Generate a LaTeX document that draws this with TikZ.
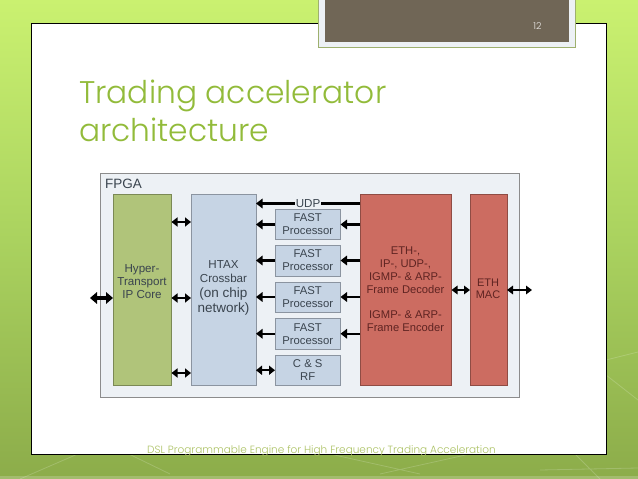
\documentclass[tikz,border=0pt]{standalone}
\usepackage{fontspec}
\setmainfont{Liberation Sans}
\newfontfamily\gothic{Poppins}[UprightFont=* Light]
\usetikzlibrary{arrows.meta,calc}
\definecolor{pgreen}{RGB}{176,196,122}
\definecolor{pblue}{RGB}{198,212,228}
\definecolor{pred}{RGB}{204,108,97}
\definecolor{fpgabg}{RGB}{237,241,245}
\definecolor{titlegr}{RGB}{146,187,58}
\definecolor{footgr}{RGB}{172,194,100}
\definecolor{brown}{RGB}{112,102,86}
\definecolor{bgtop}{RGB}{202,241,112}
\definecolor{bgmid}{RGB}{170,210,95}
\definecolor{bgbot}{RGB}{140,172,74}
\definecolor{txtdark}{RGB}{58,68,78}
\definecolor{txtred}{RGB}{95,36,34}
\tikzset{
  x=1pt,y=-1pt,
  blk/.style={draw=#1!70!black,line width=0.8pt,inner sep=0pt,outer sep=0pt,fill=#1},
  lab/.style={align=center,inner sep=0pt,text=txtdark,font=\fontsize{11.3}{13}\selectfont},
  redlab/.style={lab,text=txtred},
  one/.style={line width=2.3pt,-{Triangle[length=6.5pt,width=9.5pt]}},
  two/.style={line width=2.2pt,{Triangle[length=6pt,width=9pt]}-{Triangle[length=6pt,width=9pt]}},
  big/.style={line width=3.3pt,{Triangle[length=7pt,width=11.5pt]}-{Triangle[length=7pt,width=11.5pt]}},
  thin2/.style={line width=1.8pt,{Triangle[length=6pt,width=8.5pt]}-{Triangle[length=6pt,width=8.5pt]}},
  bgline/.style={white,opacity=0.18,line width=0.8pt}
}
\begin{document}
\begin{tikzpicture}
\useasboundingbox (0,0) rectangle (638,479);
% background
\shade[top color=bgtop,bottom color=bgbot,middle color=bgmid] (0,0) rectangle (638,479);
\fill[white,opacity=0.2] (0,476) rectangle (638,479);
\draw[bgline] (20,479) -- (110,440) (100,440) -- (170,474) (330,454) -- (420,474) (380,474) -- (470,454)
  (606,360) -- (638,352) (606,375) -- (638,400) (540,470) -- (638,468) (575,454) -- (600,479);
% panel
\draw[black,line width=0.9pt,fill=white] (31.5,23.5) rectangle (606.5,454);
% page tab
\draw[draw=pgreen!90!black,line width=0.8pt,fill=fpgabg] (318,-2) rectangle (575,47);
\fill[brown] (324.5,-2) rectangle (569,42);
\node[inner sep=0pt,text=white!85!brown,font=\gothic\fontsize{9.5}{11}\selectfont] (pageno) at (537.5,26) {12};
% title
\node[anchor=base west,inner sep=0pt,text=titlegr,font=\gothic\fontsize{31.3}{38}\selectfont] (title1) at (79,103) {Trading accelerator};
\node[anchor=base west,inner sep=0pt,text=titlegr,font=\gothic\fontsize{31.3}{38}\selectfont] (title2) at (79,141) {architecture};
% fpga
\node[draw=black!45,line width=0.8pt,fill=fpgabg,inner sep=0pt,outer sep=0pt,minimum width=419.5pt,minimum height=224pt] (fpga) at (309.75,285) {};
\node[anchor=west,lab,font=\fontsize{13.5}{15}\selectfont] (fpgalab) at (105,184) {FPGA};
% blocks
\node[blk=pgreen,minimum width=58.5pt,minimum height=191.5pt] (ip) at (142.25,289.75) {};
\node[blk=pblue,minimum width=65pt,minimum height=191.5pt] (htax) at (223.5,289.75) {};
\node[blk=pred,minimum width=91.5pt,minimum height=191.5pt] (dec) at (405.75,289.75) {};
\node[blk=pred,minimum width=37pt,minimum height=191.5pt] (mac) at (488.5,289.75) {};
\node[blk=pblue,minimum width=65.5pt,minimum height=30pt,align=center,lab] (f1) at (307.75,224.5) {FAST\\Processor};
\node[blk=pblue,minimum width=65.5pt,minimum height=31pt,align=center,lab] (f2) at (307.75,260.5) {FAST\\Processor};
\node[blk=pblue,minimum width=65.5pt,minimum height=30pt,align=center,lab] (f3) at (307.75,297) {FAST\\Processor};
\node[blk=pblue,minimum width=65.5pt,minimum height=30.5pt,align=center,lab] (f4) at (307.75,333.75) {FAST\\Processor};
\node[blk=pblue,minimum width=65.5pt,minimum height=30.5pt,align=center,lab] (cs) at (307.75,370.25) {C \& S\\RF};
% labels
\node[lab,font=\fontsize{11.6}{12.6}\selectfont] (iplab) at (142,281.5) {Hyper-\\Transport\\IP Core};
\node[lab,font=\fontsize{11.6}{14.2}\selectfont,anchor=north] (htlab1) at (223.5,260) {HTAX\\Crossbar};
\node[lab,font=\fontsize{13.5}{14.6}\selectfont,anchor=north] (htlab2) at (223.5,288) {(on chip\\network)};
\node[redlab,font=\fontsize{11.2}{13}\selectfont] (declab1) at (405.5,270.5) {ETH-,\\IP-, UDP-,\\IGMP- \& ARP-\\Frame Decoder};
\node[redlab,font=\fontsize{11.2}{13}\selectfont] (declab2) at (405.5,321.5) {IGMP- \& ARP-\\Frame Encoder};
\node[redlab,font=\fontsize{11}{12.4}\selectfont] (maclab) at (488,289) {ETH\\MAC};
% arrows
\coordinate (ext) at (90,298);
\coordinate (mext) at (532,290);
\draw[big] (ext) -- (ip.west |- ext);
\draw[two] (ip.east |- 0,222) -- (htax.west |- 0,222);
\draw[two] (ip.east |- 0,298) -- (htax.west |- 0,298);
\draw[two] (ip.east |- 0,373) -- (htax.west |- 0,373);
\draw[two] (cs.west) -- (htax.east |- cs.west);
\foreach \n in {f1,f2,f3,f4}{
  \draw[one] (\n.west) -- (htax.east |- \n.west);
  \draw[one] (dec.west |- \n.east) -- (\n.east);
}
\draw[one] (dec.west |- 0,203.5) -- (htax.east |- 0,203.5)
  node[pos=0.5,fill=fpgabg,inner sep=0.8pt,text=txtdark,font=\fontsize{11.6}{13}\selectfont] (udp) {UDP};
\draw[thin2] (dec.east |- 0,290) -- (mac.west |- 0,290);
\draw[thin2] (mac.east |- mext) -- (mext);
% footer
\node[anchor=base west,inner sep=0pt,text=footgr,font=\gothic\fontsize{10.5}{12}\selectfont] (foot) at (147,453) {DSL Programmable Engine for High Frequency Trading Acceleration};
\end{tikzpicture}
\end{document}
